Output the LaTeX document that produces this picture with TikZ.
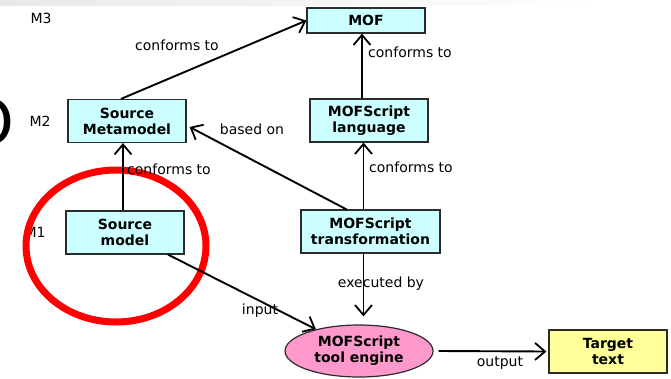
\documentclass[tikz,border=0pt]{standalone}
\usepackage{fontspec}
\setmainfont{DejaVu Sans}
\usetikzlibrary{arrows.meta,shapes.geometric}
\definecolor{MCyan}{HTML}{CCFFFF}
\definecolor{MPink}{HTML}{FF99CC}
\definecolor{MYellow}{HTML}{FFFF99}
\definecolor{MEdge}{HTML}{2B2B2B}
\definecolor{MRed}{HTML}{FF0000}

\begin{document}
\begin{tikzpicture}[
  x=1pt,y=-1pt,
  every node/.style={font=\fontsize{14}{16}\selectfont},
  model/.style={draw=MEdge,line width=1.2pt,fill=MCyan,inner sep=0pt,
    minimum width=118pt,minimum height=43pt,align=center,
    font=\fontsize{14}{16}\selectfont\bfseries},
  engine/.style={ellipse,draw=MEdge,line width=1.2pt,fill=MPink,inner sep=0pt,
    minimum width=148pt,minimum height=52pt,align=center,
    font=\fontsize{14}{16}\selectfont\bfseries},
  result/.style={model,fill=MYellow},
  level/.style={anchor=west},
  rel/.style={-{Straight Barb[length=10pt,width=17pt,line width=1.8pt]},line width=1.9pt}
]
  \useasboundingbox (0,0) rectangle (671,378);
  \shade[left color=gray!18,right color=white] (0,0) rectangle (600,5);
  \node[anchor=east,font=\fontsize{62}{62}\selectfont] (bigo) at (18,122) {O};

  % meta levels
  \node[level] (m3) at (27,18) {M3};
  \node[level] (m2) at (26,121) {M2};
  \node[level] (m1) at (21,232) {M1};
  \draw[MRed,line width=7pt] (116,246) ellipse [x radius=90,y radius=76];

  \node[model,minimum height=25pt] (mof) at (366,20.5) {MOF};
  \node[model] (srcmm) at (127,121) {Source\\Metamodel};
  \node[model] (lang) at (369,120.5) {MOFScript\\language};
  \node[model] (srcm) at (125,232.5) {Source\\model};
  \node[model,minimum width=139pt] (trans) at (370.5,231.5) {MOFScript\\transformation};
  \node[engine] (eng) at (359,351) {MOFScript\\tool engine};
  \node[result] (tgt) at (608,351.5) {Target\\text};

  \draw[rel] ([xshift=-6pt]srcmm.north) -- (mof.west);
  \draw[rel] ([xshift=-7pt]lang.north) -- ([xshift=-7pt]lang.north |- mof.south);
  \draw[rel] ([xshift=-2pt]srcm.north) -- ([xshift=-2pt]srcm.north |- srcmm.south);
  \draw[rel] ([xshift=-24pt]trans.north) -- ([yshift=-6pt,xshift=3pt]srcmm.east);
  \draw[rel] ([xshift=-7pt]trans.north) -- ([xshift=-7pt]trans.north |- lang.south);
  \draw[rel] ([xshift=-7pt]trans.south) -- ([xshift=-7pt,yshift=8pt]trans.south |- eng.north);
  \draw[rel] ([xshift=43pt]srcm.south) -- (eng);
  \draw[rel] ([xshift=5pt]eng.east) -- ([xshift=-2pt]tgt.west);

  \node (l1) at (177,45) {conforms to};
  \node (l2) at (410,52) {conforms to};
  \node (l3) at (252,129) {based on};
  \node (l4) at (169,169) {conforms to};
  \node (l5) at (411,167) {conforms to};
  \node (l6) at (381,284) {executed by};
  \node (l7) at (260,311) {input};
  \node (l8) at (500,363) {output};
\end{tikzpicture}
\end{document}
